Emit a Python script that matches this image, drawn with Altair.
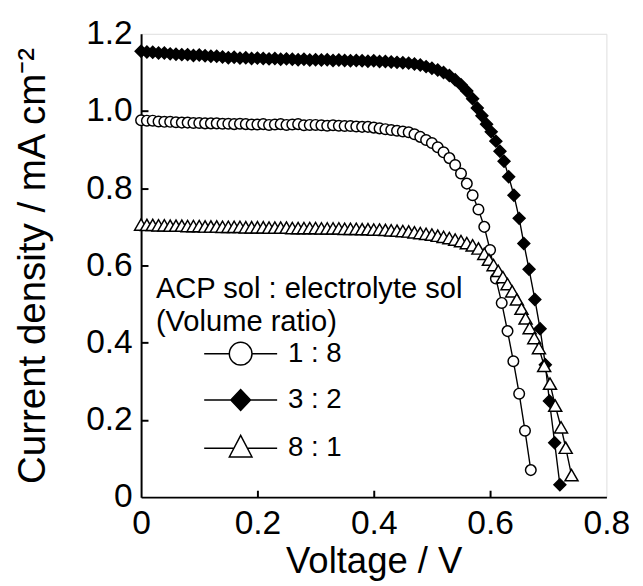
import altair as alt
import pandas as pd

# ---- data ----
series_names = ["1 : 8", "3 : 2", "8 : 1"]

v_18 = [0.00, 0.01, 0.02, 0.03, 0.04, 0.05, 0.06, 0.07, 0.08, 0.09,
        0.10, 0.11, 0.12, 0.13, 0.14, 0.15, 0.16, 0.17, 0.18, 0.19,
        0.20, 0.21, 0.22, 0.23, 0.24, 0.25, 0.26, 0.27, 0.28, 0.29,
        0.30, 0.31, 0.32, 0.33, 0.34, 0.35, 0.36, 0.37, 0.38, 0.39,
        0.40, 0.41, 0.42, 0.43, 0.44, 0.45, 0.46, 0.47, 0.48, 0.49,
        0.50, 0.51, 0.52, 0.53, 0.54, 0.55, 0.56, 0.57, 0.58, 0.59,
        0.60, 0.61, 0.62, 0.63, 0.64, 0.65, 0.66, 0.67]
j_18 = [0.976, 0.975, 0.975, 0.973, 0.972, 0.972, 0.971, 0.970, 0.970, 0.969,
        0.969, 0.968, 0.968, 0.968, 0.967, 0.967, 0.966, 0.967, 0.966, 0.965,
        0.965, 0.966, 0.964, 0.965, 0.966, 0.964, 0.965, 0.966, 0.963, 0.964,
        0.964, 0.963, 0.962, 0.963, 0.962, 0.961, 0.961, 0.960, 0.959, 0.959,
        0.957, 0.955, 0.953, 0.951, 0.949, 0.947, 0.945, 0.940, 0.933, 0.925,
        0.917, 0.906, 0.893, 0.878, 0.860, 0.838, 0.812, 0.782, 0.745, 0.700,
        0.640, 0.566, 0.503, 0.430, 0.352, 0.268, 0.172, 0.070]

v_32 = [0.00, 0.01, 0.02, 0.03, 0.04, 0.05, 0.06, 0.07, 0.08, 0.09,
        0.10, 0.11, 0.12, 0.13, 0.14, 0.15, 0.16, 0.17, 0.18, 0.19,
        0.20, 0.21, 0.22, 0.23, 0.24, 0.25, 0.26, 0.27, 0.28, 0.29,
        0.30, 0.31, 0.32, 0.33, 0.34, 0.35, 0.36, 0.37, 0.38, 0.39,
        0.40, 0.41, 0.42, 0.43, 0.44, 0.45, 0.46, 0.47, 0.48, 0.49,
        0.50, 0.51, 0.52, 0.53, 0.54, 0.55, 0.56, 0.57, 0.578, 0.586,
        0.594, 0.602, 0.610, 0.617, 0.624, 0.632, 0.641, 0.650, 0.658, 0.667,
        0.677, 0.686, 0.695, 0.702, 0.711, 0.720]
j_32 = [1.155, 1.153, 1.152, 1.150, 1.150, 1.148, 1.147, 1.146, 1.146, 1.144,
        1.145, 1.143, 1.142, 1.142, 1.140, 1.138, 1.139, 1.137, 1.138, 1.136,
        1.137, 1.136, 1.135, 1.136, 1.134, 1.135, 1.134, 1.133, 1.134, 1.132,
        1.133, 1.132, 1.133, 1.131, 1.132, 1.131, 1.130, 1.131, 1.130, 1.129,
        1.130, 1.128, 1.128, 1.127, 1.126, 1.125, 1.124, 1.122, 1.119, 1.115,
        1.111, 1.106, 1.100, 1.092, 1.081, 1.068, 1.052, 1.032, 1.008, 0.988,
        0.966, 0.946, 0.922, 0.896, 0.870, 0.830, 0.782, 0.722, 0.657, 0.590,
        0.512, 0.436, 0.343, 0.249, 0.141, 0.032]

v_81 = [0.00, 0.01, 0.02, 0.03, 0.04, 0.05, 0.06, 0.07, 0.08, 0.09,
        0.10, 0.11, 0.12, 0.13, 0.14, 0.15, 0.16, 0.17, 0.18, 0.19,
        0.20, 0.21, 0.22, 0.23, 0.24, 0.25, 0.26, 0.27, 0.28, 0.29,
        0.30, 0.31, 0.32, 0.33, 0.34, 0.35, 0.36, 0.37, 0.38, 0.39,
        0.40, 0.41, 0.42, 0.43, 0.44, 0.45, 0.46, 0.47, 0.48, 0.49,
        0.50, 0.51, 0.52, 0.53, 0.54, 0.55, 0.56, 0.57, 0.58, 0.590,
        0.598, 0.606, 0.614, 0.622, 0.630, 0.638, 0.646, 0.654, 0.661, 0.668,
        0.676, 0.684, 0.693, 0.703, 0.712, 0.722, 0.730, 0.740]
j_81 = [0.706, 0.705, 0.705, 0.704, 0.704, 0.703, 0.703, 0.703, 0.702, 0.702,
        0.702, 0.701, 0.701, 0.701, 0.700, 0.700, 0.700, 0.700, 0.699, 0.699,
        0.699, 0.699, 0.698, 0.698, 0.698, 0.698, 0.697, 0.697, 0.697, 0.697,
        0.697, 0.696, 0.696, 0.696, 0.696, 0.695, 0.695, 0.695, 0.694, 0.694,
        0.693, 0.693, 0.692, 0.691, 0.690, 0.689, 0.688, 0.686, 0.684, 0.682,
        0.680, 0.677, 0.674, 0.671, 0.667, 0.663, 0.658, 0.652, 0.644, 0.630,
        0.615, 0.601, 0.586, 0.570, 0.552, 0.533, 0.512, 0.488, 0.463, 0.438,
        0.412, 0.386, 0.340, 0.294, 0.237, 0.181, 0.128, 0.057]

x_ticks = [0, 0.2, 0.4, 0.6, 0.8]
y_ticks = [0, 0.2, 0.4, 0.6, 0.8, 1.0, 1.2]

# ---- build table ----
rows = []
for name, vs, js in [(series_names[0], v_18, j_18),
                     (series_names[1], v_32, j_32),
                     (series_names[2], v_81, j_81)]:
    for v, j in zip(vs, js):
        rows.append({"series": name, "V": v, "J": j})
df = pd.DataFrame(rows)
legend_df = pd.DataFrame({"lseries": series_names})

FONT = "Liberation Sans"
W, H = 472, 470

xscale = alt.Scale(domain=[0, 0.8], nice=False, zero=False)
yscale = alt.Scale(domain=[0, 1.2], nice=False, zero=False)

label_expr = "datum.value == 0 ? '0' : format(datum.value, '.1f')"

# lines with main (labelled) axes
lines = alt.Chart(df).mark_line(color="black", strokeWidth=1.4).encode(
    x=alt.X("V:Q", scale=xscale,
            axis=alt.Axis(orient="bottom", values=x_ticks, labelExpr=label_expr,
                          ticks=False, tickSize=0, grid=False, domain=True,
                          domainColor="black", domainWidth=2, labelFlush=False,
                          labelFontSize=34, labelPadding=10, labelColor="black",
                          labelFont=FONT, title="Voltage / V", titleFont=FONT,
                          titleFontSize=37, titleFontWeight="normal",
                          titleColor="black", titlePadding=3)),
    y=alt.Y("J:Q", scale=yscale,
            axis=alt.Axis(orient="left", values=y_ticks, labelExpr=label_expr,
                          ticks=False, tickSize=0, grid=False, domain=True,
                          domainColor="black", domainWidth=2, labelFlush=False,
                          labelFontSize=34, labelPadding=9, labelColor="black",
                          labelFont=FONT, title="Current density / mA cm⁻²",
                          titleFont=FONT, titleFontSize=39,
                          titleFontWeight="normal", titleColor="black",
                          titlePadding=34)),
    detail="series:N",
)

# markers with inward tick-only axes
points = alt.Chart(df).mark_point(filled=True, stroke="black", strokeWidth=1.5,
                                  opacity=1).encode(
    x=alt.X("V:Q", scale=xscale,
            axis=alt.Axis(orient="top", offset=-H, values=[0.2, 0.4, 0.6],
                          labels=False, title=None, domain=False, grid=False,
                          ticks=True, tickSize=7, tickWidth=2, tickColor="black")),
    y=alt.Y("J:Q", scale=yscale,
            axis=alt.Axis(orient="right", offset=-W, values=[0.2, 0.4, 0.6, 0.8, 1.0],
                          labels=False, title=None, domain=False, grid=False,
                          ticks=True, tickSize=7, tickWidth=2, tickColor="black")),
    shape=alt.Shape("series:N",
                    scale=alt.Scale(domain=series_names,
                                    range=["circle", "diamond", "triangle-up"]),
                    legend=None),
    fill=alt.Fill("series:N",
                  scale=alt.Scale(domain=series_names,
                                  range=["white", "black", "white"]),
                  legend=None),
    size=alt.Size("series:N",
                  scale=alt.Scale(domain=series_names, range=[115, 175, 150]),
                  legend=None),
)

# legend-only layer (symbols with line stubs)
circle_path = ("M-3.7,0L-1.15,0M1.15,0L3.7,0M-1.15,0A1.15,1.15,0,1,0,1.15,0"
               "A1.15,1.15,0,1,0,-1.15,0Z")
diamond_path = "M-3.7,0L3.7,0M-1,0L0,-1.05L1,0L0,1.05Z"
triangle_path = "M-3.7,0L-0.69,0M0.69,0L3.7,0M0,-1.32L1.15,0.88L-1.15,0.88Z"


def make_legend():
    return alt.Legend(
        orient="none", legendX=15, legendY=245, padding=0,
        title=["ACP sol : electrolyte sol", "(Volume ratio)"],
        titleFont=FONT, titleFontSize=29.5, titleFontWeight="normal",
        titleColor="black", titleLimit=600, titleLineHeight=33,
        titlePadding=3,
        labelFont=FONT, labelFontSize=28, labelColor="black",
        labelOffset=34, symbolOffset=72, symbolSize=400,
        symbolStrokeWidth=1.5, symbolOpacity=1,
        rowPadding=18)


legend_layer = alt.Chart(legend_df).mark_point(
    filled=True, stroke="black", strokeWidth=1.5, size=400, opacity=1
).encode(
    shape=alt.Shape("lseries:N",
                    scale=alt.Scale(domain=series_names,
                                    range=[circle_path, diamond_path, triangle_path]),
                    legend=make_legend()),
    fill=alt.Fill("lseries:N",
                  scale=alt.Scale(domain=series_names,
                                  range=["white", "black", "white"]),
                  legend=make_legend()),
).transform_filter("false")

chart = alt.layer(lines, points, legend_layer).resolve_scale(
    shape="independent", fill="independent", size="independent"
).resolve_axis(
    x="independent", y="independent"
).properties(width=W, height=H).configure_view(
    stroke="black", strokeWidth=2
).configure(font=FONT, background="white")

chart.save("out.html", embed_options={"renderer": "svg", "actions": False})
